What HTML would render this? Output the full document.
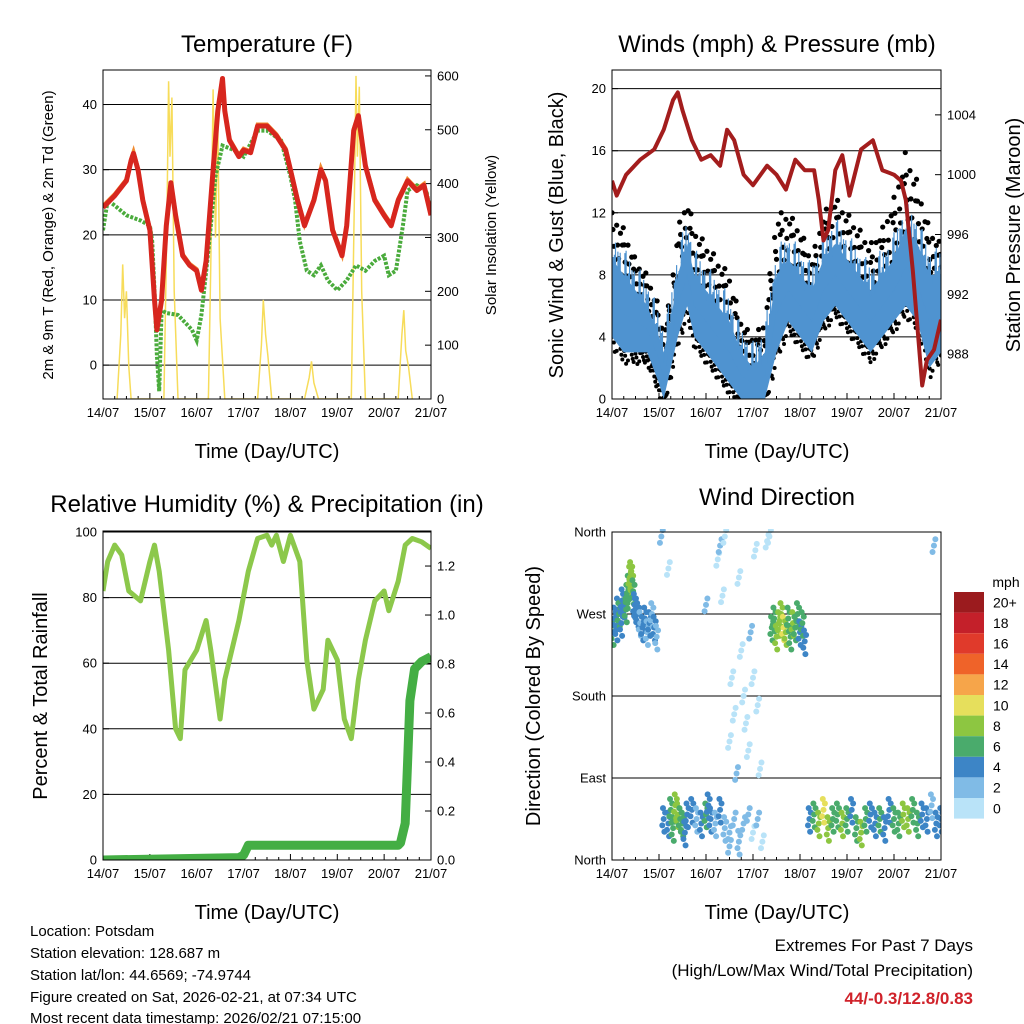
<!DOCTYPE html>
<html><head><meta charset="utf-8">
<style>
html,body{margin:0;padding:0;background:#fff;}
svg{display:block;font-family:"Liberation Sans",sans-serif;}
</style></head>
<body>
<svg id="c" width="1024" height="1024" viewBox="0 0 1024 1024">
<rect width="1024" height="1024" fill="#fff"/>
<text x="267" y="52" font-size="24" text-anchor="middle">Temperature (F)</text>
<text x="777" y="52" font-size="24" text-anchor="middle">Winds (mph) &amp; Pressure (mb)</text>
<text x="267" y="512" font-size="24" text-anchor="middle">Relative Humidity (%) &amp; Precipitation (in)</text>
<text x="777" y="505" font-size="24" text-anchor="middle">Wind Direction</text>
<text x="267" y="458" font-size="20" text-anchor="middle">Time (Day/UTC)</text>
<text x="777" y="458" font-size="20" text-anchor="middle">Time (Day/UTC)</text>
<text x="267" y="919" font-size="20" text-anchor="middle">Time (Day/UTC)</text>
<text x="777" y="919" font-size="20" text-anchor="middle">Time (Day/UTC)</text>
<text transform="translate(53,235) rotate(-90)" font-size="15" text-anchor="middle">2m &amp; 9m T (Red, Orange) &amp; 2m Td (Green)</text>
<text transform="translate(496,235) rotate(-90)" font-size="15" text-anchor="middle">Solar Insolation (Yellow)</text>
<text transform="translate(563,235) rotate(-90)" font-size="20" text-anchor="middle">Sonic Wind &amp; Gust (Blue, Black)</text>
<text transform="translate(1020,235) rotate(-90)" font-size="20" text-anchor="middle">Station Pressure (Maroon)</text>
<text transform="translate(47,696) rotate(-90)" font-size="20" text-anchor="middle">Percent &amp; Total Rainfall</text>
<text transform="translate(540,696) rotate(-90)" font-size="20" text-anchor="middle">Direction (Colored By Speed)</text>
<g font-size="15">
<text x="30" y="936">Location: Potsdam</text>
<text x="30" y="958">Station elevation: 128.687 m</text>
<text x="30" y="980">Station lat/lon: 44.6569; -74.9744</text>
<text x="30" y="1002">Figure created on Sat, 2026-02-21, at 07:34 UTC</text>
<text x="30" y="1023">Most recent data timestamp: 2026/02/21 07:15:00</text>
</g>
<g font-size="17" text-anchor="end">
<text x="973" y="951">Extremes For Past 7 Days</text>
<text x="973" y="976">(High/Low/Max Wind/Total Precipitation)</text>
<text x="973" y="1004" fill="#d0222a" font-weight="bold">44/-0.3/12.8/0.83</text>
</g>
<g id="plots"></g>
</svg>
<script>
// ---------- data ----------
const xDays = ['14/07','15/07','16/07','17/07','18/07','19/07','20/07','21/07'];
const tempT = [0,0.25,0.5,0.6,0.65,0.75,0.85,1.0,1.1,1.15,1.25,1.35,1.45,1.55,1.7,1.85,2.0,2.1,2.2,2.35,2.45,2.55,2.6,2.7,2.9,3.0,3.15,3.3,3.5,3.7,3.9,4.0,4.15,4.3,4.5,4.65,4.75,4.9,5.1,5.2,5.35,5.45,5.6,5.8,6.0,6.15,6.3,6.5,6.7,6.85,7.0];
const tempV = [24.2,26,28.3,31.4,32.5,29.9,25.3,20.7,10,5.4,10,21.4,28,23,16.8,15.3,14.5,11.5,16,30,39,44,39,34.5,32,33,32.6,36.7,36.7,35.2,33,30,25.3,21.4,25.3,30,28.3,20.7,16.8,21.4,36,38.3,30.6,25.3,23,21.4,25.3,28.3,26.8,27.6,23];
const dewT = [0,0.1,0.25,0.5,0.8,1.0,1.05,1.1,1.15,1.2,1.25,1.35,1.6,1.9,2.0,2.1,2.25,2.4,2.55,2.8,3.0,3.3,3.5,3.8,4.0,4.1,4.2,4.35,4.5,4.65,4.8,5.0,5.2,5.4,5.6,5.8,6.0,6.1,6.25,6.4,6.5,6.7,6.9,7.0];
const dewV = [20.7,25.3,24.5,23,22.2,21.4,19,11.5,1.5,-4,8.4,8,7.7,5.4,3.8,7.7,17.6,29,33.7,33,32,36,36,34.5,29,25.3,19,14.5,13.8,15.3,13,11.5,13,15.3,14.5,16,16.8,13.8,14.5,21.4,26.8,27.6,26.8,23];
const solarT = [0.3,0.38,0.42,0.46,0.5,0.55,0.6, 1.3,1.36,1.4,1.43,1.47,1.52,1.6, 2.25,2.3,2.35,2.4,2.45,2.5,2.6, 3.3,3.38,3.42,3.47,3.52,3.6, 4.3,4.4,4.45,4.5,4.6, 5.3,5.36,5.4,5.43,5.47,5.52,5.6, 6.3,6.38,6.42,6.46,6.52,6.6];
const solarV = [0,120,250,150,200,60,0, 0,300,590,450,560,200,0, 0,250,575,300,520,150,0, 0,100,184,120,80,0, 0,40,70,30,0, 0,350,600,450,580,200,0, 0,120,165,90,60,0];
const windT = [0,0.25,0.5,0.75,1.0,1.1,1.25,1.4,1.6,1.75,2.0,2.25,2.5,2.75,3.0,3.25,3.5,3.75,4.0,4.25,4.5,4.75,5.0,5.25,5.5,5.75,6.0,6.25,6.5,6.75,7.0];
const windLo = [4,3,3,3,1,0,2,4,6,4,3,2,1,0,0,0,3,5,4,3,5,6,5,4,3,4,5,6,5,2,3];
const windHi = [9,8,7,6,4,3,5,8,10,8,7,6,5,3,2,3,8,9,8,7,9,10,9,8,7,8,9,11,10,8,8];
const gustV = [12,11,9,8,6,4,7,11,13,11,10,9,8,5,4,5,12,12,11,9,12,13,12,11,10,11,13,16,14,11,10];
const presT = [0,0.1,0.3,0.6,0.9,1.1,1.3,1.4,1.5,1.7,1.9,2.1,2.3,2.45,2.6,2.8,3.0,3.3,3.5,3.7,3.9,4.1,4.3,4.4,4.5,4.6,4.75,4.9,5.05,5.3,5.55,5.75,6.0,6.15,6.25,6.4,6.6,6.7,6.85,7.0];
const presV = [999.6,998.6,1000,1001,1001.7,1003,1005,1005.5,1004.3,1002.3,1001,1001.3,1000.6,1003,1002.3,1000,999.3,1000.6,1000,999,1001,1000.3,1000.3,998.3,995.6,996.3,1000.3,1001.3,998.6,1001.7,1002.3,1000.3,1000,999.6,998.3,993.6,985.9,987.6,988.3,990.3];
const rhT = [0,0.1,0.25,0.4,0.55,0.8,1.0,1.1,1.2,1.4,1.55,1.65,1.75,2.0,2.2,2.3,2.5,2.6,2.9,3.1,3.3,3.5,3.6,3.7,3.85,4.0,4.2,4.35,4.5,4.7,4.8,5.0,5.15,5.3,5.45,5.6,5.8,6.0,6.1,6.3,6.45,6.6,6.8,7.0];
const rhV = [82,91,96,93,82,79,91,96,88,64,40,37,58,64,73,64,43,55,73,88,98,99,96,99,91,99,91,61,46,52,67,61,43,37,55,67,79,82,76,85,96,98,97,95];
const rainT = [0,2.9,3.0,3.1,6.3,6.35,6.45,6.5,6.55,6.65,6.8,7.0];
const rainV = [0,0.01,0.02,0.06,0.06,0.07,0.15,0.4,0.65,0.78,0.81,0.83];
const dirT = [0.02,0.05,0.1,0.12,0.15,0.2,0.22,0.25,0.3,0.32,0.35,0.38,0.4,0.42,0.45,0.48,0.5,0.55,0.6,0.65,0.7,0.75,0.8,0.85,0.9,0.95,
 1.1,1.2,1.25,1.3,1.35,1.4,1.45,1.5,1.55,1.6,1.7,1.8,1.9,2.0,2.05,2.1,2.2,2.3,2.4,2.5,2.6,2.7,2.8,2.9,3.0,3.1,
 2.25,2.3,2.35,2.4,2.5,2.55,2.6,2.65,2.7,2.75,2.8,2.85,2.9,2.95,3.0,3.05,3.1,3.15,3.2,3.3,3.35,1.05,1.2,2.0,2.5,6.85,
 3.4,3.45,3.5,3.55,3.6,3.65,3.7,3.75,3.8,3.85,3.9,3.95,4.0,4.05,4.1,
 4.2,4.3,4.4,4.5,4.6,4.7,4.8,4.9,5.0,5.1,5.2,5.3,5.4,5.5,5.6,5.7,5.8,5.9,6.0,6.1,6.2,6.3,6.4,6.5,6.6,6.7,6.8,6.9,7.0];
const dirV = [250,265,255,275,270,260,285,280,275,290,300,310,315,305,295,280,275,270,260,255,265,250,260,270,255,245,
 45,40,55,35,60,50,45,40,30,50,55,45,40,50,60,45,40,55,35,30,45,20,40,50,30,45,
 330,345,290,355,130,200,160,95,310,230,180,150,120,250,200,340,170,100,20,350,355,355,320,280,15,345,
 255,265,245,260,270,255,250,265,245,260,255,270,250,260,240,
 45,50,40,55,35,45,50,40,45,55,35,30,45,50,40,45,35,55,45,40,50,45,55,40,50,45,60,40,45];
const dirSpd = [6,4,5,4,6,4,5,4,6,7,7,8,9,8,6,5,4,4,3,4,5,3,4,3,4,3,
 4,5,6,7,9,8,7,6,5,4,5,3,4,6,5,4,3,4,3,2,2,3,2,2,1,2,
 1,2,1,1,1,0,1,2,1,0,1,0,1,2,1,1,0,1,1,1,0,2,1,2,2,2,
 6,7,8,9,8,10,9,7,6,8,7,6,5,6,4,
 5,7,9,10,8,6,7,8,6,5,7,8,6,5,4,6,5,4,7,6,8,9,7,6,5,4,3,4,5];
const cbLabels = ['20+','18','16','14','12','10','8','6','4','2','0'];
const cbColors = ['#9b1b1e','#c4202a','#e03a2b','#ef6329','#f6a54a','#e6df5c','#8dc641','#4aab6c','#3d85c6','#80bbe6','#b9e3f8'];

// ---------- helpers ----------
const NS='http://www.w3.org/2000/svg';
const root=document.getElementById('plots');
function mk(tag,attrs,parent){const e=document.createElementNS(NS,tag);for(const k in attrs)e.setAttribute(k,attrs[k]);(parent||root).appendChild(e);return e;}
function lin(d0,d1,r0,r1){return v=>r0+(v-d0)*(r1-r0)/(d1-d0);}
function pathOf(xs,ys,sx,sy){return xs.map((t,i)=>(i?'L':'M')+sx(t).toFixed(1)+' '+sy(ys[i]).toFixed(1)).join(' ');}
function interp(xs,ys,t){for(let i=1;i<xs.length;i++){if(t<=xs[i]){const f=(t-xs[i-1])/(xs[i]-xs[i-1]);return ys[i-1]+f*(ys[i]-ys[i-1]);}}return ys[ys.length-1];}

function frame(name){
  const g=mk('g',{});
  
  
  return g;
}
function box(g,x0,y0,x1,y1){mk('rect',{x:x0,y:y0,width:x1-x0,height:y1-y0,fill:'none',stroke:'#000','stroke-width':1},g);}
function xAxis(g,x0,x1,y1){
  const sx=lin(0,7,x0,x1);
  xDays.forEach((lab,i)=>{
    const x=sx(i);
    mk('line',{x1:x,y1:y1,x2:x,y2:y1-6,stroke:'#000'},g);
    for(let k=1;k<4&&i<7;k++){const xm=sx(i+k/4);mk('line',{x1:xm,y1:y1,x2:xm,y2:y1-3,stroke:'#000'},g);}
    const t=mk('text',{x:x,y:y1+18,'font-size':13,'text-anchor':'middle'},g);t.textContent=lab;
    
    
  });
  return sx;
}
function yTicks(g,vals,labels,sy,x,side,grid,x0,x1){
  vals.forEach((v,i)=>{
    const y=sy(v);
    if(grid) mk('line',{x1:x0,y1:y,x2:x1,y2:y,stroke:'#000','stroke-width':1},g);
    mk('line',{x1:x,y1:y,x2:x+(side<0?6:-6),y2:y,stroke:'#000'},g);
    const t=mk('text',{x:side<0?x-6:x+6,y:y+4.5,'font-size':13,'text-anchor':side<0?'end':'start'},g);t.textContent=labels[i];
    
    
  });
}

// ---------- Panel 1: Temperature ----------
(function(){
  const x0=103,x1=431,y0=70,y1=399;
  const g=frame('temperature-panel');
  const sy=lin(-5.2,45.3,y1,y0), sr=lin(0,611,y1,y0);
  yTicks(g,[0,10,20,30,40],['0','10','20','30','40'],sy,x0,-1,true,x0,x1);
  yTicks(g,[0,100,200,300,400,500,600],['0','100','200','300','400','500','600'],sr,x1,1,false);
  const sx=xAxis(g,x0,x1,y1);
  const cpr=mk('clipPath',{id:'cp1'},g);mk('rect',{x:x0,y:y0,width:x1-x0,height:y1-y0},cpr);
  const s=mk('path',{d:pathOf(solarT,solarV,sx,sr),fill:'none',stroke:'#f7dc5a','stroke-width':1.5,'clip-path':'url(#cp1)'},g);
  
  
  const d=mk('path',{d:pathOf(dewT,dewV,sx,sy),fill:'none',stroke:'#4aab3c','stroke-width':4,'stroke-dasharray':'3 1.5','clip-path':'url(#cp1)'},g);
  
  
  const o=mk('path',{d:pathOf(tempT,tempV,sx,v=>sy(v)-1.5),fill:'none',stroke:'#f08a30','stroke-width':4,'clip-path':'url(#cp1)'},g);
  
  
  const r=mk('path',{d:pathOf(tempT,tempV,sx,sy),fill:'none',stroke:'#d7261e','stroke-width':5,'stroke-linejoin':'round','clip-path':'url(#cp1)'},g);
  
  
  box(g,x0,y0,x1,y1);
})();

// ---------- Panel 2: Winds ----------
(function(){
  const x0=612,x1=941,y0=70,y1=399;
  const g=frame('winds-panel');
  const sy=lin(0,21.2,y1,y0), sp=lin(985,1007,y1,y0);
  yTicks(g,[0,4,8,12,16,20],['0','4','8','12','16','20'],sy,x0,-1,true,x0,x1);
  yTicks(g,[988,992,996,1000,1004],['988','992','996','1000','1004'],sp,x1,1,false);
  const sx=xAxis(g,x0,x1,y1);
  const cpr=mk('clipPath',{id:'cp2'},g);mk('rect',{x:x0,y:y0,width:x1-x0,height:y1-y0},cpr);
  // black gust dots spread between sonic max and gust max
  const fr=[1,0.75,0.5,0.3,0.15,0.9,0.6,0.4,0.05,0.85,0.2,0.7];
  for(let k=0;k<=350;k++){
    const t=k*7/350;
    const hi=interp(windT,windHi,t), gu=interp(windT,gustV,t), lo=interp(windT,windLo,t);
    const f=fr[k%fr.length];
    const c=mk('circle',{cx:sx(t),cy:sy(hi-1+(gu-hi+1)*f),r:2.6,fill:'#000','clip-path':'url(#cp2)'},g);
    
    
    const c2=mk('circle',{cx:sx(t),cy:sy(lo-0.8+(hi-lo)*fr[(k+5)%fr.length]*0.3),r:2,fill:'#000','clip-path':'url(#cp2)'},g);
    
    
  }
  const bb='M'+windT.map((t,i)=>sx(t).toFixed(1)+' '+sy(windHi[i]).toFixed(1)).join(' L')+' L'+windT.slice().reverse().map((t,j)=>{const i=windT.length-1-j;return sx(t).toFixed(1)+' '+sy(windLo[i]).toFixed(1);}).join(' L')+'Z';
  const bbe=mk('path',{d:bb,fill:'#4f93d0','clip-path':'url(#cp2)'},g);
  
  
  // spiky texture on top of the band
  let sp2='';
  for(let k=0;k<=280;k++){const t=k*7/280;const hi=interp(windT,windHi,t),lo=interp(windT,windLo,t);const f=fr[(k*7)%fr.length];sp2+='M'+sx(t).toFixed(1)+' '+sy(lo+(hi-lo)*0.5).toFixed(1)+'V'+sy(hi+(f-0.3)*2.5).toFixed(1);}
  const spk=mk('path',{d:sp2,stroke:'#4f93d0','stroke-width':1.2,fill:'none','clip-path':'url(#cp2)'},g);
  
  
  const p=mk('path',{d:pathOf(presT,presV,sx,sp),fill:'none',stroke:'#a31d1d','stroke-width':4,'stroke-linejoin':'round','clip-path':'url(#cp2)'},g);
  
  
  box(g,x0,y0,x1,y1);
})();

// ---------- Panel 3: RH & precip ----------
(function(){
  const x0=103,x1=431,y0=531,y1=860;
  const g=frame('humidity-panel');
  const sy=lin(0,100.3,y1,y0), sr=lin(0,1.343,y1,y0);
  yTicks(g,[0,20,40,60,80,100],['0','20','40','60','80','100'],sy,x0,-1,true,x0,x1);
  yTicks(g,[0,0.2,0.4,0.6,0.8,1.0,1.2],['0.0','0.2','0.4','0.6','0.8','1.0','1.2'],sr,x1,1,false);
  const sx=xAxis(g,x0,x1,y1);
  const cpr=mk('clipPath',{id:'cp3'},g);mk('rect',{x:x0,y:y0,width:x1-x0,height:y1-y0},cpr);
  const r=mk('path',{d:pathOf(rhT,rhV,sx,sy),fill:'none',stroke:'#8cc84b','stroke-width':5,'stroke-linejoin':'round','clip-path':'url(#cp3)'},g);
  
  
  const p=mk('path',{d:pathOf(rainT,rainV,sx,sr),fill:'none',stroke:'#44ae44','stroke-width':9,'stroke-linejoin':'round','clip-path':'url(#cp3)'},g);
  
  
  box(g,x0,y0,x1,y1);
})();

// ---------- Panel 4: Wind direction ----------
(function(){
  const x0=612,x1=941,y0=532,y1=860;
  const g=frame('wind-direction-panel');
  const sy=lin(0,360,y1,y0);
  yTicks(g,[0,90,180,270,360],['North','East','South','West','North'],sy,x0,-1,true,x0,x1);
  const sx=xAxis(g,x0,x1,y1);
  const cpr=mk('clipPath',{id:'cp4'},g);mk('rect',{x:x0,y:y0-3,width:x1-x0,height:y1-y0+6},cpr);
  const offs=[[0,0],[0.03,7],[-0.03,-7],[0.015,-14],[-0.015,12]];
  dirT.forEach((t,i)=>{
    const col=cbColors[10-Math.min(10,Math.floor(dirSpd[i]/2))];
    const n=dirSpd[i]<=2?3:5;
    offs.slice(0,n).forEach(o=>{
      const c=mk('circle',{cx:sx(t+o[0]),cy:sy(dirV[i]+o[1]),r:3,fill:col,'clip-path':'url(#cp4)'},g);
      
      
    });
  });
  box(g,x0,y0,x1,y1);
  const cb=mk('g',{});
  
  
  const t0=mk('text',{x:1006,y:587,'font-size':14,'text-anchor':'middle'},cb);t0.textContent='mph';
  const bh=20.6;
  cbLabels.forEach((lab,i)=>{
    const y=592+i*bh;
    mk('rect',{x:954,y:y,width:30,height:bh,fill:cbColors[i]},cb);
    const t=mk('text',{x:993,y:y+bh/2+5,'font-size':14},cb);t.textContent=lab;
    
    
  });
})();
</script>
</body></html>
